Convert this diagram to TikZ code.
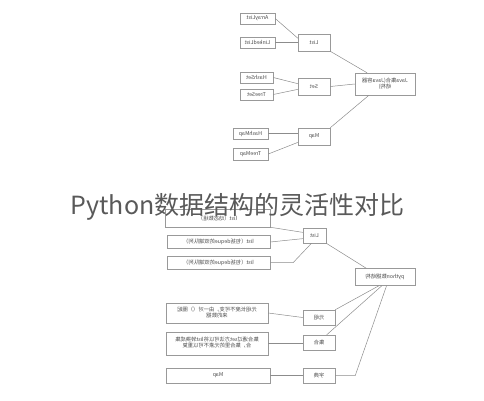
\documentclass[tikz,border=0pt]{standalone}
\usepackage{fontspec}
\usepackage{graphicx}
\usepackage{tikz}
\usetikzlibrary{positioning}
\newfontfamily\cjk{Noto Sans CJK SC}
\newcommand{\mirtxt}[1]{\scalebox{-1}[1]{#1}}
\newcommand{\twoln}[2]{\mirtxt{\begin{tabular}{@{}c@{}}#1\\#2\end{tabular}}}

\begin{document}
\begin{tikzpicture}[x=1pt, y=-1pt,
  box/.style={draw=gray!80, fill=white, line width=0.5pt, inner sep=0pt,
    font=\cjk\fontsize{5.3}{6.4}\selectfont, text=gray!60!black},
  leaf/.style={box, minimum width=#1, minimum height=11pt},
  mid/.style={box, minimum width=32pt, minimum height=17pt},
  link/.style={draw=gray!90, line width=0.5pt}]
  \useasboundingbox (0,0) rectangle (484,400);
  % Java part
  \node[leaf=35pt] (arr) at (257.5,18.5) {\mirtxt{ArrayList}};
  \node[leaf=35pt] (lnk) at (257.5,42.5) {\mirtxt{LinkedList}};
  \node[mid] (lst) at (314,42.5) {\mirtxt{List}};
  \node[leaf=33pt] (hset) at (256.5,77.5) {\mirtxt{HashSet}};
  \node[leaf=33pt] (tset) at (256.5,94.5) {\mirtxt{TreeSet}};
  \node[mid] (set) at (314,86.5) {\mirtxt{Set}};
  \node[leaf=35pt] (hmap) at (250.5,133.5) {\mirtxt{HashMap}};
  \node[leaf=35pt, minimum height=12pt] (tmap) at (250.5,154) {\mirtxt{TreeMap}};
  \node[mid] (map) at (314,136.5) {\mirtxt{Map}};
  \node[box, minimum width=60pt, minimum height=22pt] (jroot) at (385,84)
    {\twoln{Java集合(Java容器}{结构)}};
  \draw[link] (arr.east) -- (lst.165);
  \draw[link] (lnk.east) -- (lst.west);
  \draw[link] (hset.east) -- (set.170);
  \draw[link] (tset.east) -- (set.190);
  \draw[link] (hmap.east) -- (hmap.east -| map.west);
  \draw[link] (tmap.east) -- (map.200);
  \draw[link] (lst.south east) -- (jroot.148);
  \draw[link] (set.east) -- (jroot.west);
  \draw[link] (map.north east) -- (jroot.215);
  % python part
  \node[box, minimum width=105pt, minimum height=18pt] (lone) at (217.5,218)
    {\mirtxt{list（动态数组）}};
  \node[box, minimum width=103pt, minimum height=13pt] (ltwo) at (218.5,242)
    {\mirtxt{list（包括deque的双端队列）}};
  \node[box, minimum width=103pt, minimum height=13pt] (lthree) at (218.5,262.5)
    {\mirtxt{list（包括deque的双端队列）}};
  \node[box, minimum width=23pt, minimum height=15pt] (blst) at (314.5,235.5) {\mirtxt{List}};
  \node[box, minimum width=60pt, minimum height=17pt] (proot) at (385,277)
    {\mirtxt{python数据结构}};
  \node[box, minimum width=102pt, minimum height=20pt] (tdesc) at (217,313)
    {\twoln{元组长度不可变，由一对（）圈起}{来的数据}};
  \node[box, minimum width=32pt, minimum height=15pt] (tup) at (319,317.5) {\mirtxt{元组}};
  \node[box, minimum width=102pt, minimum height=23pt] (sdesc) at (217,343.5)
    {\twoln{集合通过set方法可以将list转换成集}{合，集合里的元素不可以重复}};
  \node[box, minimum width=32pt, minimum height=15pt] (bset) at (319,342.5) {\mirtxt{集合}};
  \node[box, minimum width=104pt, minimum height=15pt] (ddesc) at (218,375.5) {\mirtxt{Map}};
  \node[box, minimum width=32pt, minimum height=15pt] (dict) at (319,375.5) {\mirtxt{字典}};
  \draw[link] (lone.south east) -- (blst.165);
  \draw[link] (ltwo.east) -- (blst.195);
  \draw[link] (lthree.east) -- ++(23,0) -- ([xshift=-3pt]blst.south);
  \draw[link] (blst.south east) -- (proot.155);
  \draw[link] (tdesc.east) -- (tup.west);
  \draw[link] (sdesc.east) -- (sdesc.east -| bset.west);
  \draw[link] (ddesc.east) -- (dict.west);
  \draw[link] (tup.north east) -- (proot.235);
  \draw[link] (bset.45) -- (proot.250);
  \draw[link] (dict.east) -- ++(20,0) -- (proot.280);
  % title
  \node[font=\cjk\fontsize{25}{28}\selectfont, text=gray!70!black, inner sep=0pt]
    (title) at (237.5,207) {Python数据结构的灵活性对比};
\end{tikzpicture}
\end{document}
